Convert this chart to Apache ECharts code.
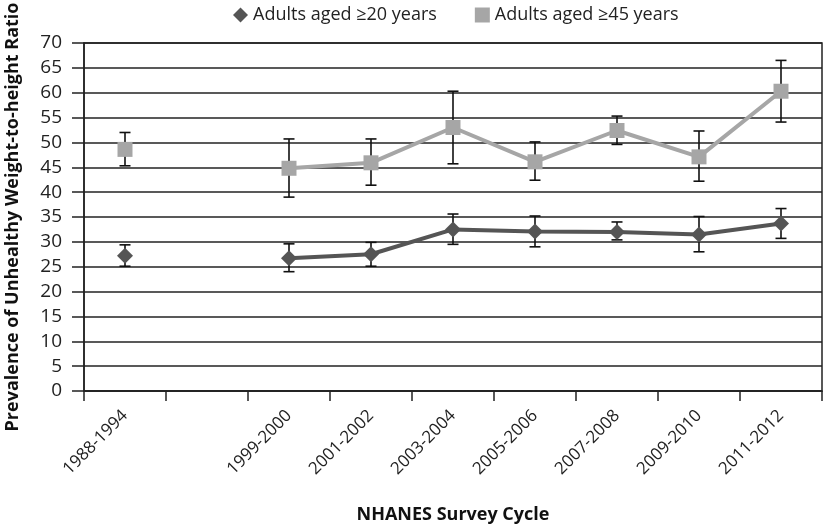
<!DOCTYPE html>
<html><head><meta charset="utf-8">
<script src="https://cdn.jsdelivr.net/npm/echarts@6/dist/echarts.min.js"></script>
<style>html,body{margin:0;padding:0;background:#fff}#c{width:825px;height:525px}</style>
</head><body><div id="c"></div>
<script>
const categories = ['1988-1994', '', '1999-2000', '2001-2002', '2003-2004', '2005-2006', '2007-2008', '2009-2010', '2011-2012'];
const yTicks = [0, 5, 10, 15, 20, 25, 30, 35, 40, 45, 50, 55, 60, 65, 70];
const adults20 = [27.2, null, 26.7, 27.5, 32.5, 32.1, 32.0, 31.5, 33.7];
const adults20Low = [25.1, null, 24.0, 25.1, 29.5, 29.0, 30.4, 28.0, 30.7];
const adults20High = [29.4, null, 29.6, 29.9, 35.6, 35.2, 34.0, 35.1, 36.7];
const adults45 = [48.6, null, 44.8, 45.9, 53.0, 46.1, 52.4, 47.1, 60.3];
const adults45Low = [45.3, null, 39.0, 41.4, 45.7, 42.4, 49.6, 42.2, 54.1];
const adults45High = [52.0, null, 50.7, 50.7, 60.3, 50.1, 55.3, 52.3, 66.5];

function errData(lo, hi) {
  const out = [];
  lo.forEach((v, i) => { if (v != null) out.push([i, v, hi[i]]); });
  return out;
}
function renderErr(params, api) {
  const x = api.value(0);
  const lo = api.coord([x, api.value(1)]);
  const hi = api.coord([x, api.value(2)]);
  const hw = 5.5;
  const style = { stroke: '#111', lineWidth: 1.6, fill: null };
  return { type: 'group', children: [
    { type: 'line', shape: { x1: lo[0], y1: lo[1], x2: hi[0], y2: hi[1] }, style },
    { type: 'line', shape: { x1: lo[0] - hw, y1: lo[1], x2: lo[0] + hw, y2: lo[1] }, style },
    { type: 'line', shape: { x1: hi[0] - hw, y1: hi[1], x2: hi[0] + hw, y2: hi[1] }, style }
  ]};
}
const font = '"Open Sans", "Noto Sans", sans-serif';
const chart = echarts.init(document.getElementById('c'), null, { renderer: 'canvas' });
chart.setOption({
  animation: false,
  backgroundColor: '#fff',
  textStyle: { fontFamily: font },
  legend: {
    top: 1, left: 228, itemGap: 38, itemWidth: 15, itemHeight: 15,
    textStyle: { fontSize: 18, color: '#222', fontFamily: font },
    data: [
      { name: 'Adults aged ≥20 years', icon: 'diamond' },
      { name: 'Adults aged ≥45 years', icon: 'rect' }
    ]
  },
  grid: { left: 84, right: 3, top: 43, bottom: 134, show: true, borderColor: '#222', borderWidth: 1.5,
    containLabel: false, outerBoundsMode: 'none' },
  xAxis: {
    type: 'category', data: categories, boundaryGap: true,
    axisLine: { lineStyle: { color: '#222', width: 1.5 } },
    axisTick: { show: true, alignWithLabel: false, length: 10, lineStyle: { color: '#222', width: 1.5 } },
    axisLabel: { rotate: 45, fontSize: 17, color: '#222', fontFamily: font, margin: 22, interval: 0 },
    name: 'NHANES Survey Cycle', nameLocation: 'middle', nameGap: 115,
    nameTextStyle: { fontSize: 18, fontWeight: 'bold', color: '#111', fontFamily: font }
  },
  yAxis: {
    type: 'value', min: 0, max: 70, interval: 5,
    axisLine: { show: true, lineStyle: { color: '#222', width: 1.5 } },
    axisTick: { show: true, length: 12, lineStyle: { color: '#222', width: 1.5 } },
    axisLabel: { fontSize: 19, color: '#222', fontFamily: font, margin: 22,
      formatter: v => yTicks.includes(v) ? String(v) : '' },
    splitLine: { lineStyle: { color: '#222', width: 1.5 } },
    name: 'Prevalence of Unhealthy Weight-to-height Ratio', nameLocation: 'middle', nameGap: 62,
    nameTextStyle: { fontSize: 18, fontWeight: 'bold', color: '#111', fontFamily: font }
  },
  series: [
    { type: 'custom', name: 'err20', renderItem: renderErr, data: errData(adults20Low, adults20High), z: 1, silent: true },
    { type: 'custom', name: 'err45', renderItem: renderErr, data: errData(adults45Low, adults45High), z: 1, silent: true },
    { type: 'line', name: 'Adults aged ≥20 years', data: adults20, connectNulls: false,
      symbol: 'diamond', symbolSize: 16, itemStyle: { color: '#555555' },
      lineStyle: { color: '#555555', width: 4 }, z: 3 },
    { type: 'line', name: 'Adults aged ≥45 years', data: adults45, connectNulls: false,
      symbol: 'rect', symbolSize: 15, itemStyle: { color: '#a6a6a6' },
      lineStyle: { color: '#a6a6a6', width: 4 }, z: 3 }
  ]
});
</script></body></html>
